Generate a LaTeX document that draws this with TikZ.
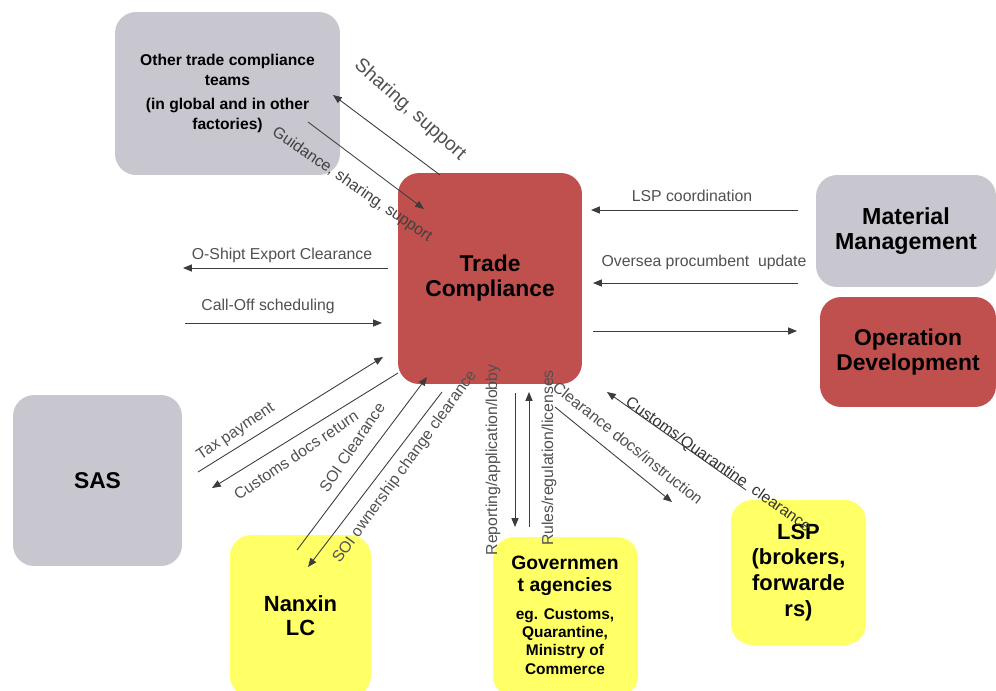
\documentclass[tikz,border=0pt]{standalone}
\usepackage{fontspec}
\setmainfont{Liberation Sans}
\usetikzlibrary{arrows.meta}
\definecolor{boxgray}{RGB}{200,199,208}
\definecolor{boxred}{RGB}{192,80,77}
\definecolor{boxyellow}{RGB}{255,255,102}
\definecolor{linkgray}{RGB}{60,60,60}
\definecolor{labelgray}{RGB}{80,80,80}
\begin{document}
\begin{tikzpicture}[x=0.02cm,y=-0.02cm,
  party/.style={rounded corners=12pt, inner sep=0pt, align=center, font=\bfseries},
  grayparty/.style={party, fill=boxgray},
  redparty/.style={party, fill=boxred},
  yellowparty/.style={party, fill=boxyellow},
  link/.style={draw=linkgray, line width=0.5pt, -{Triangle[length=5pt,width=4pt]}},
  linklabel/.style={text=labelgray, font=\fontsize{9}{10}\selectfont, inner sep=0pt},
]
\useasboundingbox (0,0) rectangle (996,690);
\clip (0,0) rectangle (996,690);

% ---------- parties ----------
\node[grayparty, minimum width=4.5cm, minimum height=3.26cm,
      font=\bfseries\fontsize{8.9}{11.3}\selectfont] (other) at (227.5,93.5)
  {Other trade compliance\\teams\\[2.3pt](in global and in other\\factories)};
\node[redparty, minimum width=3.68cm, minimum height=4.22cm,
      font=\bfseries\fontsize{13}{14.2}\selectfont] (tc) at (490,278.5)
  {Trade\\Compliance};
\node[grayparty, minimum width=3.6cm, minimum height=2.24cm,
      font=\bfseries\fontsize{13.2}{14.2}\selectfont] (mm) at (906,231)
  {Material\\Management};
\node[redparty, minimum width=3.52cm, minimum height=2.2cm,
      font=\bfseries\fontsize{13}{14.2}\selectfont] (od) at (908,352)
  {Operation\\Development};
\node[grayparty, minimum width=3.38cm, minimum height=3.42cm,
      font=\bfseries\fontsize{13}{14}\selectfont] (sas) at (97.5,480.5)
  {SAS};
\node[yellowparty, minimum width=2.82cm, minimum height=3.24cm,
      font=\bfseries\fontsize{12.5}{13.6}\selectfont] (nanxin) at (300.5,616)
  {Nanxin\\LC};
\node[yellowparty, minimum width=2.9cm, minimum height=3.2cm] (gov) at (565.5,617) {};
\node[party, font=\bfseries\fontsize{11}{12.5}\selectfont] (govtitle) at (565,576)
  {Governmen\\t agencies};
\node[party, font=\bfseries\fontsize{8.8}{10.4}\selectfont] (govnote) at (565,641.5)
  {eg. Customs,\\Quarantine,\\Ministry of\\Commerce};
\node[yellowparty, minimum width=2.7cm, minimum height=2.9cm,
      font=\bfseries\fontsize{12.5}{14.7}\selectfont] (lsp) at (798.5,572.5)
  {LSP\\(brokers,\\forwarde\\rs)};

% ---------- connector end points ----------
\coordinate (s1) at (440,175);  \coordinate (s2) at (333,95);
\coordinate (g1) at (308,122);  \coordinate (g2) at (424,209);
\coordinate (l1) at (798,210);  \coordinate (l2) at (591,210);
\coordinate (o1) at (798,283);  \coordinate (o2) at (593,283);
\coordinate (d1) at (593,331);  \coordinate (d2) at (797,331);
\coordinate (e1) at (388,268);  \coordinate (e2) at (183,268);
\coordinate (c1) at (185,323);  \coordinate (c2) at (382,323);
\coordinate (t1) at (198,472);  \coordinate (t2) at (383,357);
\coordinate (r1) at (398,373);  \coordinate (r2) at (212,488);
\coordinate (q1) at (297,550);  \coordinate (q2) at (427,377);
\coordinate (w1) at (442,392);  \coordinate (w2) at (308,567);
\coordinate (p1) at (515,393);  \coordinate (p2) at (515,527);
\coordinate (u1) at (529,527);  \coordinate (u2) at (529,392);
\coordinate (k1) at (555,407);  \coordinate (k2) at (672,502);
\coordinate (m1) at (746,490);  \coordinate (m2) at (607,392);

% ---------- connectors ----------
\draw[link] (s1) -- (s2);
\draw[link] (g1) -- (g2);
\draw[link] (l1) -- (l2);
\draw[link] (o1) -- (o2);
\draw[link] (d1) -- (d2);
\draw[link] (e1) -- (e2);
\draw[link] (c1) -- (c2);
\draw[link] (t1) -- (t2);
\draw[link] (r1) -- (r2);
\draw[link] (q1) -- (q2);
\draw[link] (w1) -- (w2);
\draw[link] (p1) -- (p2);
\draw[link] (u1) -- (u2);
\draw[link] (k1) -- (k2);
\draw[link] (m1) -- (m2);

% ---------- connector labels ----------
\node[linklabel, font=\fontsize{11}{12}\selectfont, rotate=-41.5] (lshare) at (410,110) {Sharing, support};
\node[linklabel, text=black!75, rotate=-34.5] (lguide) at (352,185) {Guidance, sharing, support};
\node[linklabel] (llsp) at (692,196) {LSP coordination};
\node[linklabel] (lover) at (704,262) {Oversea procumbent \ update};
\node[linklabel] (lship) at (282,255) {O-Shipt Export Clearance};
\node[linklabel] (lcall) at (268,306) {Call-Off scheduling};
\node[linklabel, rotate=34] (ltax) at (236,432) {Tax payment};
\node[linklabel, rotate=34] (lret) at (296,455) {Customs docs return};
\node[linklabel, rotate=56] (lsoi) at (352,447) {SOI Clearance};
\node[linklabel, rotate=54] (lown) at (405,467) {SOI ownership change clearance};
\node[linklabel, rotate=90] (lrep) at (493,460) {Reporting/application/lobby};
\node[linklabel, rotate=90] (lrul) at (549,458) {Rules/regulation/licenses};
\node[linklabel, rotate=-38.5] (lclr) at (628,443) {Clearance docs/instruction};
\node[linklabel, text=black!80, rotate=-35] (lcq) at (718,465) {Customs/Quarantine \ clearance};
\end{tikzpicture}
\end{document}
